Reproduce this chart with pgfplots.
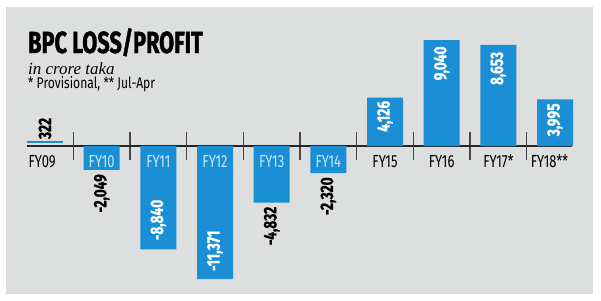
\documentclass[border=0pt]{standalone}
\usepackage{pgfplots}
\pgfplotsset{compat=1.18}
\usepackage{fontspec}
\setmainfont{Fira Sans}
\newfontfamily\cond[FakeStretch=0.74]{Fira Sans}
\newfontfamily\condnote[FakeStretch=0.78]{Fira Sans}
\newfontfamily\condt[FakeStretch=0.71, BoldFeatures={FakeBold=1.3}]{Fira Sans}
\newfontfamily\condv[FakeStretch=0.76, BoldFeatures={FakeBold=0.8}]{Fira Sans}
\newfontfamily\serifit{Liberation Serif}
\definecolor{bpcblue}{HTML}{1A8FD6}
\definecolor{panel}{HTML}{DDDEDE}
\definecolor{lightlab}{HTML}{C4E6F7}
\definecolor{axisdark}{HTML}{262626}
\begin{document}
\begin{tikzpicture}
\fill[white] (0pt,0pt) rectangle (601pt,-300pt);
\fill[panel] (6pt,-7pt) rectangle (593pt,-294pt);
\node[anchor=base west, inner sep=0pt] at (28pt,-53pt) {\condt\bfseries\fontsize{30.5}{30.5}\selectfont BPC LOSS/PROFIT};
\node[anchor=base west, inner sep=0pt] at (28pt,-74pt) {\serifit\itshape\fontsize{17}{17}\selectfont in crore taka};
\node[anchor=base west, inner sep=0pt] at (28pt,-88pt) {\condnote\fontsize{15.5}{15.5}\selectfont * Provisional, ** Jul-Apr};
\begin{axis}[
  at={(26.865pt,-284.996pt)}, anchor=south west,
  x=56.67pt, y=0.0117pt,
  xmin=-0.32, xmax=9.3, ymin=-11880, ymax=9573,
  axis x line=middle, axis y line=none,
  x axis line style={-, line width=2pt, axisdark},
  xtick={0.5,1.5,2.5,3.5,4.5,5.5,6.5,7.5,8.5},
  xticklabels={},
  major tick length=28pt, xtick align=center,
  tick style={line width=1.2pt, color=axisdark!85},
  clip=false,
]
\addplot[ybar, bar width=0.635, fill=bpcblue, draw=none] coordinates {
  (1,-2049) (2,-8840) (3,-11371) (4,-4832) (5,-2320)
  (6,4126) (7,9040) (8,8653) (9,3995)};
\addplot[bpcblue, line width=1.5pt] coordinates {(-0.318,322) (0.318,322)};
% value labels
\def\vf{\condv\bfseries\fontsize{18}{18}\selectfont}
\node[yshift=3pt, rotate=90, anchor=west, inner sep=0pt, black] at (axis cs:0,322) {\vf 322};
\node[yshift=-4pt, rotate=90, anchor=east, inner sep=0pt, black] at (axis cs:1,-2049) {\vf -2,049};
\node[yshift=9pt, rotate=90, anchor=west, inner sep=0pt, white] at (axis cs:2,-8840) {\vf -8,840};
\node[yshift=8pt, rotate=90, anchor=west, inner sep=0pt, white] at (axis cs:3,-11371) {\vf -11,371};
\node[yshift=-4pt, rotate=90, anchor=east, inner sep=0pt, black] at (axis cs:4,-4832) {\vf -4,832};
\node[yshift=-4pt, rotate=90, anchor=east, inner sep=0pt, black] at (axis cs:5,-2320) {\vf -2,320};
\node[yshift=-3pt, rotate=90, anchor=east, inner sep=0pt, white] at (axis cs:6,4126) {\vf 4,126};
\node[yshift=-6pt, rotate=90, anchor=east, inner sep=0pt, white] at (axis cs:7,9040) {\vf 9,040};
\node[yshift=-7pt, rotate=90, anchor=east, inner sep=0pt, white] at (axis cs:8,8653) {\vf 8,653};
\node[yshift=-4pt, rotate=90, anchor=east, inner sep=0pt, white] at (axis cs:9,3995) {\vf 3,995};
% category labels
\def\cf{\cond\fontsize{17.5}{17.5}\selectfont}
\node[yshift=-21pt, anchor=base, inner sep=0pt, black] at (axis cs:-0.05,0) {\cf FY09};
\node[yshift=-21pt, anchor=base, inner sep=0pt, lightlab] at (axis cs:1,0) {\cf FY10};
\node[yshift=-21pt, anchor=base, inner sep=0pt, lightlab] at (axis cs:2,0) {\cf FY11};
\node[yshift=-21pt, anchor=base, inner sep=0pt, lightlab] at (axis cs:3,0) {\cf FY12};
\node[yshift=-21pt, anchor=base, inner sep=0pt, lightlab] at (axis cs:4,0) {\cf FY13};
\node[yshift=-21pt, anchor=base, inner sep=0pt, lightlab] at (axis cs:5,0) {\cf FY14};
\node[yshift=-21pt, anchor=base, inner sep=0pt, black] at (axis cs:6,0) {\cf FY15};
\node[yshift=-21pt, anchor=base, inner sep=0pt, black] at (axis cs:7,0) {\cf FY16};
\node[yshift=-21pt, anchor=base, inner sep=0pt, black] at (axis cs:8,0) {\cf FY17*};
\node[yshift=-21pt, anchor=base, inner sep=0pt, black] at (axis cs:8.9,0) {\cf FY18**};
\end{axis}
\end{tikzpicture}
\end{document}
